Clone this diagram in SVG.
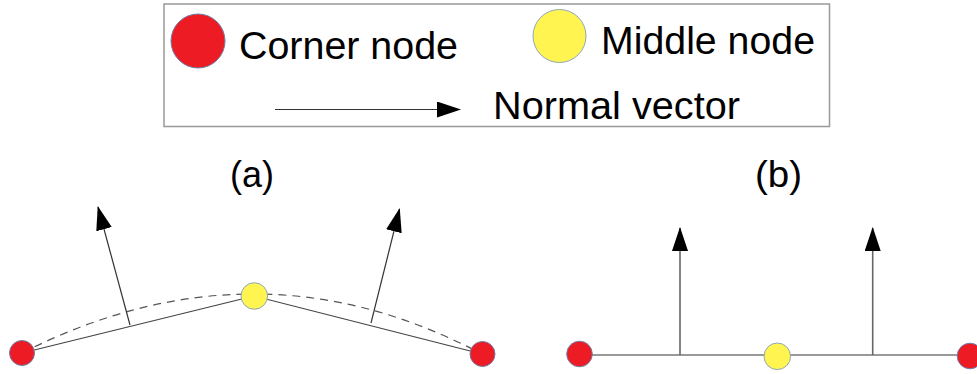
<svg xmlns="http://www.w3.org/2000/svg" width="977" height="374" viewBox="0 0 977 374">
<style>
  .t { font-family: "Liberation Sans", Arial, sans-serif; fill: #000; }
  .corner { fill: #ED1C24; stroke: #6E7FA6; stroke-width: 1; }
  .middle { fill: #FFF450; stroke: #8FA6BE; stroke-width: 1; }
  .seg { stroke: #444; stroke-width: 1.2; fill: none; }
  .segb { stroke: #777; stroke-width: 1.6; fill: none; }
  .vec { stroke: #333; stroke-width: 1.2; fill: none; marker-end: url(#ah); }
  .vecb { stroke: #666; stroke-width: 1.6; fill: none; marker-end: url(#ah); }
  .dash { stroke: #555; stroke-width: 1.2; fill: none; stroke-dasharray: 8 6; }
</style>
<defs>
  <marker id="ah" markerUnits="userSpaceOnUse" markerWidth="24" markerHeight="16" refX="23" refY="8" orient="auto" viewBox="0 0 24 16">
    <path d="M0,0 L24,8 L0,16 Z" fill="#000"/>
  </marker>
</defs>
<rect width="977" height="374" fill="#fff"/>

<g id="legend">
  <rect x="164" y="4" width="665.5" height="122.5" fill="#fff" stroke="#999" stroke-width="1.5"/>
  <circle class="corner" cx="198" cy="41" r="27"/>
  <text class="t" x="239" y="58.5" font-size="38" textLength="219" lengthAdjust="spacingAndGlyphs">Corner node</text>
  <circle class="middle" cx="559.5" cy="36" r="26.5"/>
  <text class="t" x="601" y="54" font-size="38" textLength="214" lengthAdjust="spacingAndGlyphs">Middle node</text>
  <line x1="275" y1="109.5" x2="460" y2="109.5" stroke="#333" stroke-width="1.2" marker-end="url(#ah)"/>
  <text class="t" x="493" y="118.5" font-size="38" textLength="247" lengthAdjust="spacingAndGlyphs">Normal vector</text>
</g>

<g id="label-a"><text class="t" x="230" y="187" font-size="36" textLength="44" lengthAdjust="spacingAndGlyphs">(a)</text></g>
<g id="label-b"><text class="t" x="755" y="187" font-size="36" textLength="47" lengthAdjust="spacingAndGlyphs">(b)</text></g>

<g id="connectors">
  <path class="dash" d="M22,353 Q256,234.5 482,354"/>
  <line class="seg" x1="22" y1="353" x2="254" y2="296"/>
  <line class="seg" x1="254" y1="296" x2="482" y2="354"/>
  <line class="vec" x1="130" y1="325" x2="98" y2="207"/>
  <line class="vec" x1="371" y1="323" x2="399.5" y2="209"/>
  <line class="segb" x1="579.5" y1="355" x2="977" y2="355"/>
  <line class="vecb" x1="680" y1="355" x2="680" y2="228"/>
  <line class="vecb" x1="872.7" y1="355" x2="872.7" y2="228"/>
</g>

<g id="node-a-left"><circle class="corner" cx="22" cy="353" r="12.5"/></g>
<g id="node-a-mid"><circle class="middle" cx="254.3" cy="296" r="13.3"/></g>
<g id="node-a-right"><circle class="corner" cx="482.5" cy="354" r="12.5"/></g>
<g id="node-b-left"><circle class="corner" cx="579.5" cy="354" r="12.8"/></g>
<g id="node-b-mid"><circle class="middle" cx="777.3" cy="356.3" r="13.3"/></g>
<g id="node-b-right"><circle class="corner" cx="970" cy="356" r="12.8"/></g>
</svg>
